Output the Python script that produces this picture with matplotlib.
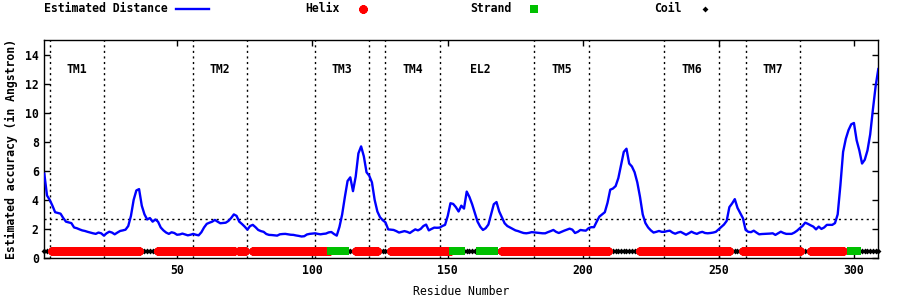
import matplotlib
matplotlib.use('Agg')
import matplotlib.pyplot as plt
from matplotlib.lines import Line2D

# Estimated distance per residue
residues = list(range(1, 310))
distance = [
    5.8, 4.3, 4.0, 3.6, 3.15, 3.1, 3.05, 2.75, 2.5, 2.45,
    2.4, 2.1, 2.05, 1.97, 1.9, 1.86, 1.8, 1.75, 1.7, 1.66,
    1.75, 1.7, 1.54, 1.7, 1.81, 1.75, 1.63, 1.75, 1.86, 1.9,
    1.95, 2.2, 2.9, 4.0, 4.65, 4.74, 3.6, 3.0, 2.65, 2.75,
    2.5, 2.65, 2.5, 2.1, 1.9, 1.75, 1.66, 1.77, 1.72, 1.6,
    1.62, 1.68, 1.62, 1.56, 1.6, 1.66, 1.6, 1.56, 1.77, 2.1,
    2.35, 2.43, 2.5, 2.62, 2.5, 2.39, 2.41, 2.43, 2.55, 2.75,
    3.0, 2.9, 2.5, 2.34, 2.16, 1.95, 2.2, 2.28, 2.12, 1.93,
    1.85, 1.8, 1.65, 1.59, 1.58, 1.56, 1.54, 1.63, 1.65, 1.66,
    1.63, 1.6, 1.59, 1.55, 1.52, 1.48, 1.5, 1.62, 1.66, 1.68,
    1.7, 1.66, 1.63, 1.66, 1.68, 1.76, 1.79, 1.65, 1.54, 2.14,
    3.0, 4.2, 5.3, 5.55, 4.6, 5.6, 7.2, 7.68, 7.0, 5.9,
    5.66, 5.2, 4.0, 3.2, 2.8, 2.6, 2.45, 1.97, 1.95, 1.93,
    1.85, 1.75, 1.8, 1.85, 1.8, 1.72, 1.85, 1.97, 1.9, 2.0,
    2.2, 2.3, 1.9, 2.0, 2.09, 2.08, 2.09, 2.2, 2.28, 2.9,
    3.77, 3.72, 3.5, 3.2, 3.6, 3.4, 4.57, 4.2, 3.7, 3.1,
    2.5, 2.15, 1.93, 2.05, 2.3, 3.0, 3.7, 3.85, 3.2, 2.8,
    2.39, 2.2, 2.1, 2.0, 1.9, 1.85, 1.78, 1.72, 1.7, 1.73,
    1.78, 1.76, 1.74, 1.72, 1.7, 1.7, 1.78, 1.85, 1.93, 1.8,
    1.72, 1.8, 1.88, 1.95, 2.02, 1.95, 1.72, 1.8, 1.93, 1.9,
    1.88, 2.05, 2.12, 2.12, 2.5, 2.85, 3.0, 3.15, 3.8, 4.7,
    4.78, 4.95, 5.5, 6.4, 7.3, 7.52, 6.5, 6.3, 5.9, 5.2,
    4.2, 3.0, 2.4, 2.1, 1.9, 1.75, 1.8, 1.86, 1.8, 1.8,
    1.85, 1.88, 1.75, 1.67, 1.75, 1.8, 1.7, 1.6, 1.7, 1.81,
    1.72, 1.66, 1.75, 1.8, 1.72, 1.7, 1.72, 1.75, 1.8, 1.97,
    2.15, 2.3, 2.55, 3.5, 3.75, 4.05, 3.45, 3.1, 2.74, 1.93,
    1.8, 1.78, 1.88, 1.75, 1.63, 1.65, 1.66, 1.67, 1.68, 1.7,
    1.59, 1.7, 1.81, 1.72, 1.66, 1.66, 1.66, 1.75, 1.88, 2.05,
    2.2, 2.43, 2.35, 2.25, 2.16, 1.97, 2.16, 2.0, 2.1, 2.28,
    2.28, 2.28, 2.4, 3.0, 5.0, 7.3, 8.2, 8.8, 9.2, 9.29,
    8.1, 7.4, 6.5, 6.76, 7.4, 8.5, 10.2, 11.8, 13.0,
]

# secondary structure segments (H helix, E strand, C coil)
ss_start = [1, 4, 37, 43, 72, 73, 76, 78, 107, 113, 116, 125, 129, 152,
            156, 162, 168, 170, 210, 221, 255, 259, 281, 284, 297, 299, 302]
ss_end = [3, 36, 42, 71, 72, 75, 77, 106, 112, 115, 124, 128, 151, 155,
          161, 167, 169, 209, 220, 254, 258, 280, 283, 296, 298, 301, 309]
ss_type = ['C', 'H', 'C', 'H', 'C', 'H', 'C', 'H', 'E', 'C', 'H', 'C', 'H', 'E',
           'C', 'E', 'C', 'H', 'C', 'H', 'C', 'H', 'C', 'H', 'C', 'E', 'C']
ss_level = 0.5

# region boundaries and labels
boundaries = [3, 23, 56, 76, 101, 121, 127, 147, 182, 202, 230, 250, 260, 280]
region_names = ['TM1', 'TM2', 'TM3', 'TM4', 'EL2', 'TM5', 'TM6', 'TM7']
region_x = [13, 66, 111, 137, 162, 192, 240, 270]
label_y = 13
threshold = 2.7

plt.rcParams['font.family'] = ['DejaVu Sans Mono']
plt.rcParams['font.weight'] = 'bold'
fs = 8.3

fig = plt.figure(figsize=(9, 3), dpi=100)
ax = fig.add_axes([44.3 / 900, 42 / 300, 834 / 900, 218 / 300])

for b in boundaries:
    ax.axvline(b, color='black', lw=1, ls=(0, (1.5, 2.5)))
ax.axhline(threshold, color='black', lw=1, ls=(0, (1.5, 2.5)))
for name, x in zip(region_names, region_x):
    ax.text(x, label_y, name, ha='center', va='center', fontsize=fs)

ax.plot(residues, distance, color='#0000ff', lw=1.7, zorder=3)

styles = {
    'H': dict(color='#ff0000', marker=(8, 2, 0), ms=6, mew=2, zorder=4),
    'E': dict(color='#00c000', marker='s', ms=5.8, mew=0, zorder=5),
    'C': dict(color='black', marker='D', ms=3, mew=0, zorder=4),
}
for kind in ['C', 'H', 'E']:
    xs = []
    for s, e, t in zip(ss_start, ss_end, ss_type):
        if t == kind:
            xs.extend(range(s, e + 1))
    ax.plot(xs, [ss_level] * len(xs), ls='none', clip_on=False, **styles[kind])

ax.set_xlim(1, 309)
ax.set_ylim(0, 15)
ax.set_xticks([50, 100, 150, 200, 250, 300])
ax.set_yticks([0, 2, 4, 6, 8, 10, 12, 14])
ax.tick_params(direction='in', length=4, width=1, top=True, right=True,
               labelsize=fs, pad=4)
for sp in ax.spines.values():
    sp.set_linewidth(1)

ax.set_xlabel('Residue Number', fontsize=fs)
ax.xaxis.set_label_coords(0.5, -0.125)
fig.text(11 / 900, 1 - 149 / 300, 'Estimated accuracy (in Angstron)',
         rotation=90, ha='center', va='center', fontsize=fs)

# key along the top, gnuplot style: text then sample
key_y = 1 - 8.5 / 300
key_names = ['Estimated Distance', 'Helix', 'Strand', 'Coil']
key_text_right = [168, 340, 511, 682]
for name, xr in zip(key_names, key_text_right):
    fig.text(xr / 900, key_y, name, ha='right', va='center', fontsize=fs)
fig.add_artist(Line2D([176 / 900, 209 / 900], [key_y, key_y],
                      color='#0000ff', lw=1.7, transform=fig.transFigure))
for kind, xm in zip(['H', 'E', 'C'], [363, 534, 705]):
    fig.add_artist(Line2D([xm / 900], [key_y], ls='none',
                          transform=fig.transFigure, **styles[kind]))

fig.savefig('out.png', dpi=100)
